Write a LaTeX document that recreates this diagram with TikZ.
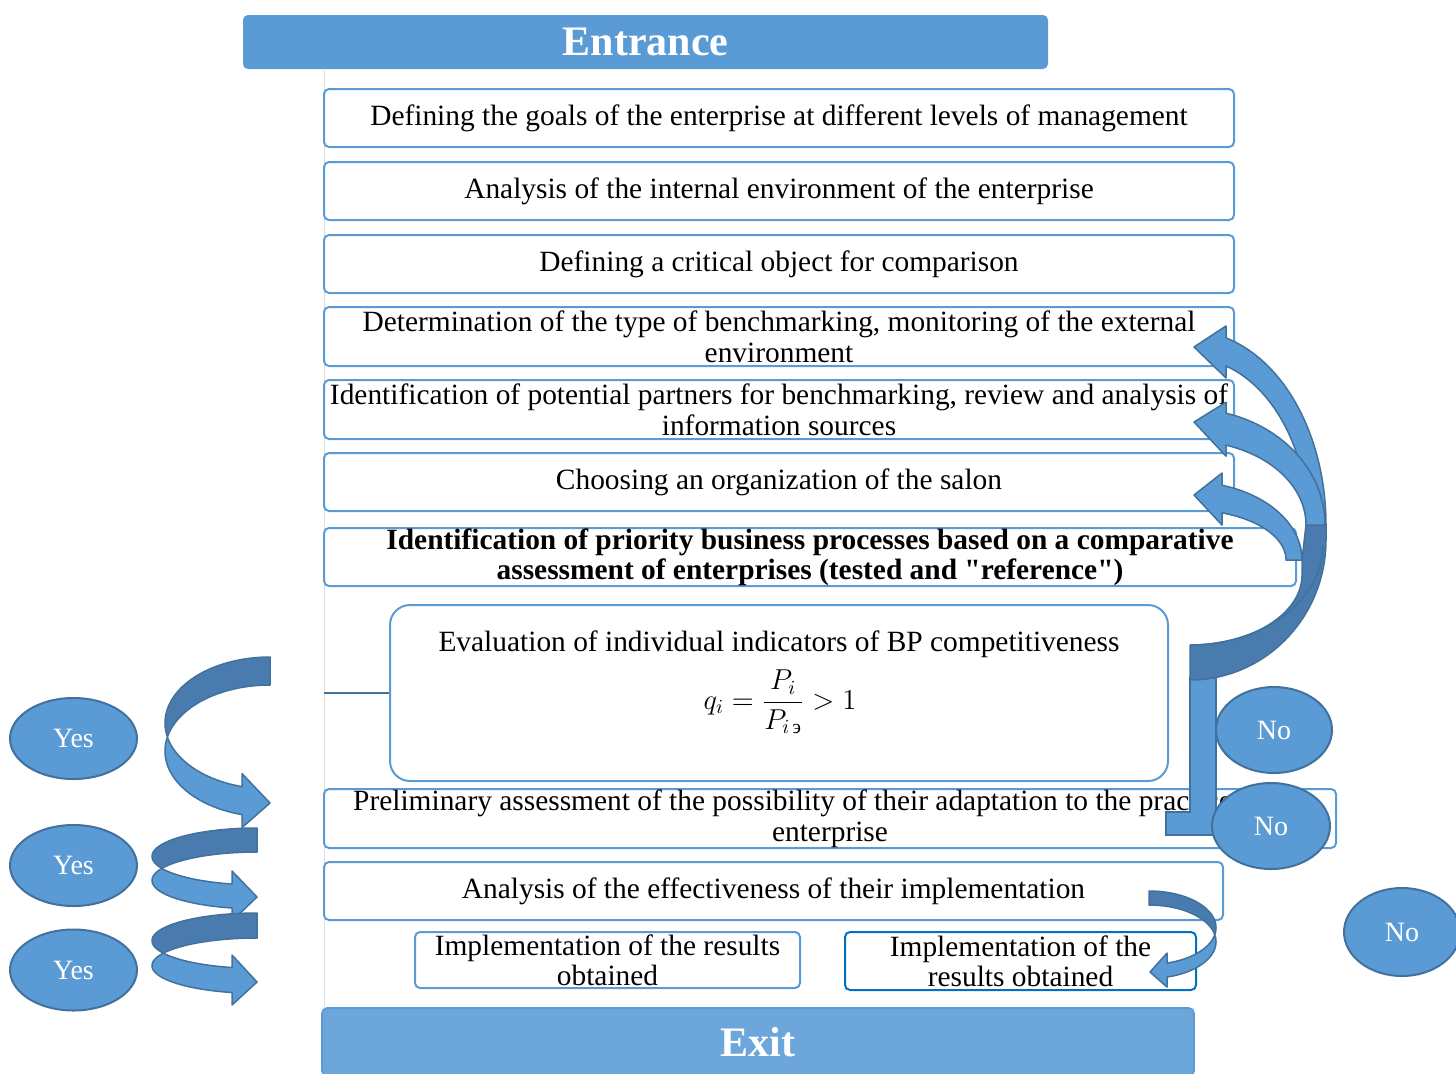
\documentclass[tikz,border=0pt]{standalone}
\usepackage{amsmath}
\usepackage{fontspec}
\setmainfont{Liberation Serif}
\usetikzlibrary{shapes.geometric}
\definecolor{acc}{HTML}{5B9BD5}
\definecolor{accdark}{HTML}{41719C}
\definecolor{ribbondark}{HTML}{4A7BAF}
\definecolor{exitblue}{HTML}{6CA6DA}
\definecolor{implblue}{HTML}{0070C0}
% ribbon bulging to the left: cx cy rx ry w dx tipx tipy hh
\newcommand\RibL[9]{%
  \pgfmathsetmacro\ra{asin(#5/(2*#4))}%
  \pgfmathsetmacro\rb{180-\ra}%
  \pgfmathsetmacro\rc{180+\ra}%
  \pgfmathsetmacro\rth{acos(-#6/#3)}%
  \pgfmathsetmacro\rmid{#2+#5/2+#4*sin(\rth)}%
  \filldraw[darkrib] plot[variable=\t,domain=270:\rb,samples=50] ({#1+#3*cos(\t)},{#2+#4*sin(\t)})
     -- plot[variable=\t,domain=\rc:270,samples=50] ({#1+#3*cos(\t)},{#2+#5+#4*sin(\t)}) -- cycle;
  \filldraw[lightrib] plot[variable=\t,domain=\rc:\rth,samples=50] ({#1+#3*cos(\t)},{#2+#5+#4*sin(\t)})
     -- (#1-#6,\rmid+#9) -- (#7,#8) -- (#1-#6,\rmid-#9)
     -- plot[variable=\t,domain=\rth:\rb,samples=50] ({#1+#3*cos(\t)},{#2+#4*sin(\t)}) -- cycle;
}
% ribbon bulging to the right, tail on top: cx cy rx ry w dx tipx tipy hh
\newcommand\RibR[9]{%
  \pgfmathsetmacro\ra{asin(#5/(2*#4))}%
  \pgfmathsetmacro\rna{-\ra}%
  \pgfmathsetmacro\rth{acos(#6/#3)}%
  \pgfmathsetmacro\rmid{#2+#5/2+#4*sin(\rth)}%
  \filldraw[darkrib] plot[variable=\t,domain=-90:\ra,samples=50] ({#1+#3*cos(\t)},{#2+#4*sin(\t)})
     -- plot[variable=\t,domain=\rna:-90,samples=50] ({#1+#3*cos(\t)},{#2+#5+#4*sin(\t)}) -- cycle;
  \filldraw[lightrib] plot[variable=\t,domain=\rna:\rth,samples=50] ({#1+#3*cos(\t)},{#2+#5+#4*sin(\t)})
     -- (#1+#6,\rmid+#9) -- (#7,#8) -- (#1+#6,\rmid-#9)
     -- plot[variable=\t,domain=\rth:\ra,samples=50] ({#1+#3*cos(\t)},{#2+#4*sin(\t)}) -- cycle;
}
% upper light part of the big right ribbons (cx = 1190, tip x = 1194):
% rxo rxi ymU ryo ryi dx tipy hh
\newcommand\RibBig[8]{%
  \pgfmathsetmacro\rtho{acos(#6/#1)}%
  \pgfmathsetmacro\rthi{acos(#6/#2)}%
  \pgfmathsetmacro\rmid{#3-(#4*sin(\rtho)+#5*sin(\rthi))/2}%
  \filldraw[lightrib] plot[variable=\t,domain=0:\rtho,samples=50] ({1190+#1*cos(\t)},{#3-#4*sin(\t)})
     -- (1190+#6,\rmid-#8) -- (1194,#7) -- (1190+#6,\rmid+#8)
     -- plot[variable=\t,domain=\rthi:0,samples=50] ({1190+#2*cos(\t)},{#3-#5*sin(\t)}) -- cycle;
}
\tikzset{
  stepbox/.style={draw=acc, line width=1pt, rounded corners=2.5pt, fill=white, inner sep=0pt,
    align=center, font=\fontsize{14.7}{15.5}\selectfont},
  answer/.style={ellipse, draw=accdark, line width=1pt, fill=acc, text=white, inner sep=0pt,
    font=\fontsize{14}{16}\selectfont},
  lightrib/.style={fill=acc, draw=accdark, line width=0.75pt, line join=round},
  darkrib/.style={fill=ribbondark, draw=accdark, line width=0.75pt, line join=round},
  titlebox/.style={fill=acc, rounded corners=2.5pt, text=white, inner sep=0pt,
    font=\fontsize{21}{24}\selectfont\bfseries},
  plain/.style={inner sep=0pt, align=center, font=\fontsize{14.7}{15.5}\selectfont}
}
\begin{document}
\begin{tikzpicture}[x=0.5pt,y=-0.5pt]
\useasboundingbox (0,0) rectangle (1456,1073);
% faint guide line
\coordinate (gtop) at (324,70);
\coordinate (gbot) at (324,1008);
\draw[black!12, line width=0.5pt] (gtop) -- (gbot);
% titles
\node[titlebox, minimum width=402.5pt, minimum height=27pt] (entr) at (645.5,42) {Entrance};
% step boxes
\node[stepbox, minimum width=455pt, minimum height=29pt] (b1) at (779,118)
  {Defining the goals of the enterprise at different levels of management};
\node[stepbox, minimum width=455pt, minimum height=29pt] (b2) at (779,191)
  {Analysis of the internal environment of the enterprise};
\node[stepbox, minimum width=455pt, minimum height=29pt] (b3) at (779,264)
  {Defining a critical object for comparison};
\node[stepbox, minimum width=455pt, minimum height=29.5pt] (b4) at (779,336.5)
  {Determination of the type of benchmarking, monitoring of the external\\ environment};
\node[stepbox, minimum width=455pt, minimum height=29.5pt] (b5) at (779,409.5)
  {Identification of potential partners for benchmarking, review and analysis of\\ information sources};
\node[stepbox, minimum width=455pt, minimum height=29pt] (b6) at (779,482)
  {Choosing an organization of the salon};
\node[stepbox, minimum width=486pt, minimum height=29pt, font=\fontsize{14.7}{15}\selectfont\bfseries] (b7) at (810,557)
  {Identification of priority business processes based on a comparative\\ assessment of enterprises (tested and \textquotedbl reference\textquotedbl)};
\node[stepbox, rounded corners=10pt, minimum width=389pt, minimum height=88pt] (ev) at (779,693) {};
\node[plain] (evt) at (779,644) {Evaluation of individual indicators of BP competitiveness};
\node[plain, font=\fontsize{14}{16}\selectfont] (evf) at (780,702) {$\displaystyle q_i=\frac{P_i}{P_{i\,\text{э}}}>1$};
\coordinate (cl) at (324,693);
\draw[accdark, line width=1pt] (cl) -- (ev.west);
\node[stepbox, minimum width=506pt, minimum height=29.5pt] (b8) at (830,818.5)
  {Preliminary assessment of the possibility of their adaptation to the practice of the\\ enterprise};
\node[stepbox, minimum width=449.5pt, minimum height=29pt] (b9) at (773.5,891)
  {Analysis of the effectiveness of their implementation};
\node[stepbox, minimum width=192.5pt, minimum height=28pt, font=\fontsize{14.7}{15}\selectfont] (i1) at (607.5,960)
  {Implementation of the results\\ obtained};
\node[stepbox, draw=implblue, minimum width=175.5pt, minimum height=29pt, font=\fontsize{14.7}{15}\selectfont] (i2) at (1020.5,961)
  {Implementation of the\\ results obtained};
\node[titlebox, fill=exitblue, draw=acc, line width=0.8pt, minimum width=436pt, minimum height=34pt] (exit) at (758,1042) {Exit};
% L-shaped bar
\filldraw[fill=acc, draw=accdark, line width=0.75pt] (1190,678) -- (1216,678) -- (1216,835) -- (1166,835) -- (1166,812) -- (1190,812) -- cycle;
% big right ribbons: dark common back part
\filldraw[darkrib] (1326,525) -- plot[variable=\t,domain=0:90,samples=50] ({1190+136*cos(\t)},{540+140*sin(\t)})
   -- plot[variable=\t,domain=90:0,samples=50] ({1190+112*cos(\t)},{575+70*sin(\t)}) -- (1302,560) -- (1306,525) -- cycle;
\draw[accdark, line width=0.75pt] plot[variable=\t,domain=0:90,samples=50] ({1190+133*cos(\t)},{545+100*sin(\t)});
\RibBig{136}{118}{525}{194}{167}{36}{347}{26}
\RibBig{135}{116}{525}{116}{84}{36}{422}{27}
\RibBig{112}{96}{560}{78}{50}{32}{495}{26}
% left ribbons
\RibL{270}{723}{105}{66}{28}{28}{270}{803}{27}
\RibL{257}{856.4}{105}{28.4}{24}{25}{257}{897}{25}
\RibL{257}{940.65}{105}{27.65}{25}{25}{257}{982}{25}
% bottom right ribbon
\RibR{1149}{927.7}{67}{36.7}{14}{18}{1150}{972}{17}
% answers
\node[answer, minimum width=63.5pt, minimum height=40.5pt] (y1) at (73.5,738.5) {Yes};
\node[answer, minimum width=63.5pt, minimum height=40.5pt] (y2) at (73.5,865.5) {Yes};
\node[answer, minimum width=63.5pt, minimum height=40.5pt] (y3) at (73.5,970) {Yes};
\node[answer, minimum width=58pt, minimum height=43pt] (n1) at (1274,730) {No};
\node[answer, minimum width=59pt, minimum height=43pt] (n2) at (1271,826) {No};
\node[answer, minimum width=58pt, minimum height=44pt] (n3) at (1402,932) {No};
\end{tikzpicture}
\end{document}
